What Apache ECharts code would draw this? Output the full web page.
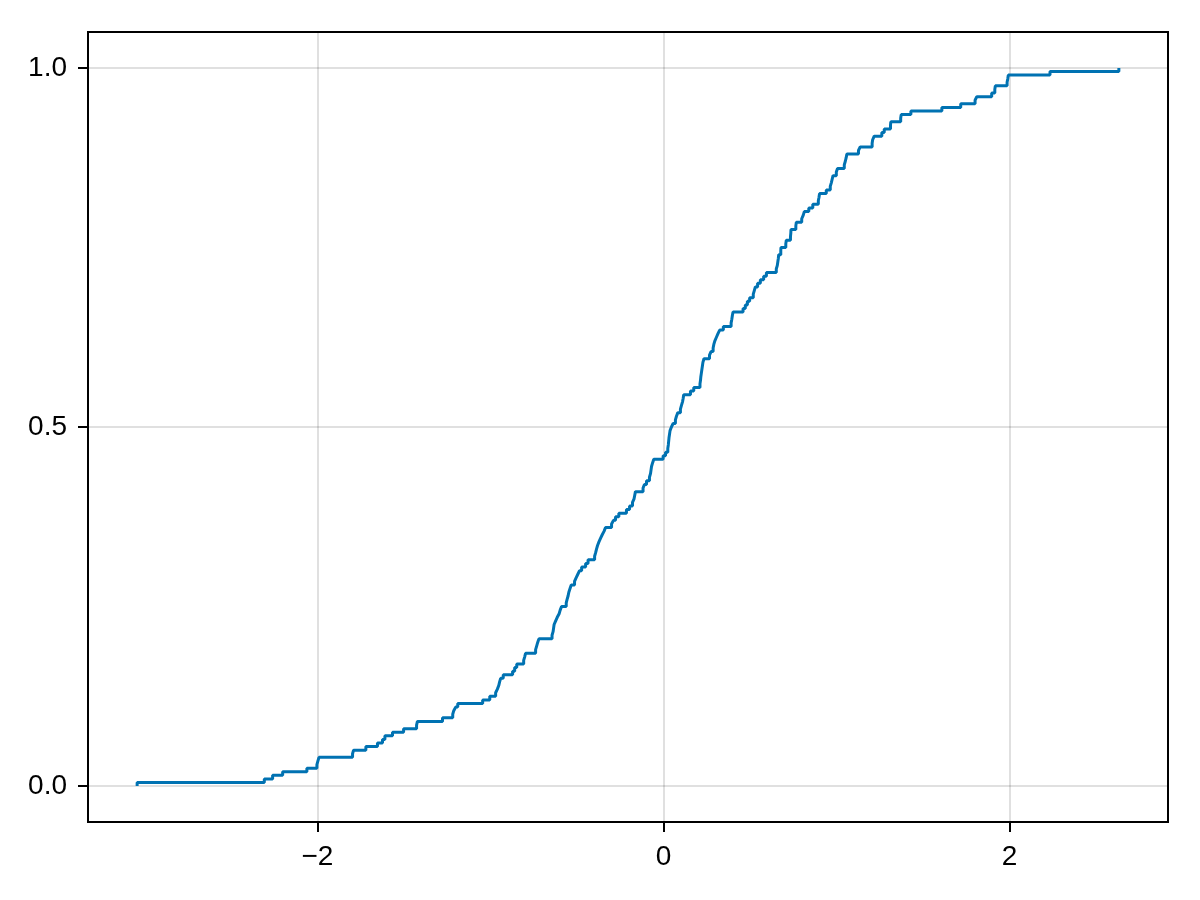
<!DOCTYPE html>
<html>
<head>
<meta charset="utf-8">
<script src="https://cdn.jsdelivr.net/npm/echarts@6/dist/echarts.min.js"></script>
<style>
html,body{margin:0;padding:0;background:#fff;}
#chart{width:1200px;height:900px;}
</style>
</head>
<body>
<div id="chart"></div>
<script>
// Sorted sample values (read from the ECDF step positions), n = 200
const sample = [
-3.042,-2.307,-2.259,-2.201,-2.061,-2.003,-1.997,-1.991,-1.797,-1.791,
-1.720,-1.653,-1.624,-1.610,-1.566,-1.502,-1.427,-1.422,-1.277,-1.218,
-1.212,-1.201,-1.189,-1.045,-1.004,-0.970,-0.960,-0.952,-0.947,-0.941,
-0.926,-0.872,-0.860,-0.848,-0.808,-0.802,-0.797,-0.739,-0.733,-0.727,
-0.720,-0.644,-0.638,-0.635,-0.632,-0.623,-0.614,-0.603,-0.597,-0.589,
-0.562,-0.557,-0.551,-0.547,-0.540,-0.533,-0.514,-0.505,-0.495,-0.485,
-0.473,-0.450,-0.436,-0.398,-0.392,-0.387,-0.381,-0.373,-0.364,-0.354,
-0.343,-0.335,-0.300,-0.289,-0.277,-0.258,-0.214,-0.196,-0.179,-0.170,
-0.166,-0.162,-0.118,-0.110,-0.098,-0.081,-0.075,-0.072,-0.069,-0.063,
-0.056,-0.002,0.012,0.025,0.028,0.030,0.032,0.035,0.038,0.046,
0.056,0.069,0.075,0.083,0.098,0.104,0.110,0.114,0.117,0.156,
0.175,0.211,0.214,0.216,0.219,0.222,0.225,0.228,0.234,0.266,
0.275,0.287,0.291,0.297,0.306,0.315,0.325,0.346,0.391,0.395,
0.398,0.402,0.460,0.473,0.485,0.498,0.519,0.525,0.531,0.544,
0.560,0.579,0.595,0.652,0.658,0.661,0.664,0.666,0.678,0.679,
0.707,0.710,0.734,0.736,0.737,0.765,0.768,0.799,0.808,0.814,
0.840,0.863,0.895,0.899,0.902,0.941,0.964,0.970,0.975,0.980,
0.999,1.006,1.045,1.051,1.056,1.060,1.127,1.137,1.206,1.209,
1.218,1.262,1.276,1.312,1.314,1.371,1.374,1.430,1.609,1.718,
1.801,1.811,1.897,1.915,1.918,1.986,1.990,1.993,2.234,2.632
];
const xTicks = [-2, 0, 2];
const yTicks = [0, 0.5, 1.0];
const xRange = [-3.326, 2.916];
const yRange = [-0.05, 1.05];

// ECDF points
const n = sample.length;
const ecdf = [[sample[0], 0]];
sample.forEach((v, i) => ecdf.push([v, (i + 1) / n]));

const fmtX = v => (v < 0 ? '\u2212' : '') + Math.abs(v).toString();
const fmtY = v => v.toFixed(1);
const font = {fontFamily: 'Liberation Sans, Arial, sans-serif', fontSize: 28, color: '#000'};

const chart = echarts.init(document.getElementById('chart'), null, {renderer: 'canvas'});
chart.setOption({
  animation: false,
  backgroundColor: '#fff',
  grid: {left: 88, right: 32, top: 32, bottom: 78, show: true, borderColor: '#000', borderWidth: 2, backgroundColor: 'transparent'},
  xAxis: {
    type: 'value', min: xRange[0], max: xRange[1],
    axisLine: {show: false, onZero: false},
    axisTick: {show: true, inside: false, length: 10, lineStyle: {color: '#000', width: 2}, customValues: xTicks},
    axisLabel: Object.assign({margin: 21, customValues: xTicks, formatter: fmtX}, font),
    splitLine: {show: true, lineStyle: {color: 'rgba(0,0,0,0.12)', width: 2}}
  },
  yAxis: {
    type: 'value', min: yRange[0], max: yRange[1],
    axisLine: {show: false, onZero: false},
    axisTick: {show: true, inside: false, length: 10, lineStyle: {color: '#000', width: 2}, customValues: yTicks},
    axisLabel: Object.assign({margin: 21, customValues: yTicks, formatter: fmtY}, font),
    splitLine: {show: true, lineStyle: {color: 'rgba(0,0,0,0.12)', width: 2}}
  },
  series: [{
    type: 'line', step: 'end', data: ecdf, showSymbol: false, symbol: 'none',
    lineStyle: {color: '#0072b2', width: 3}, z: 5
  }]
});
</script>
</body>
</html>
